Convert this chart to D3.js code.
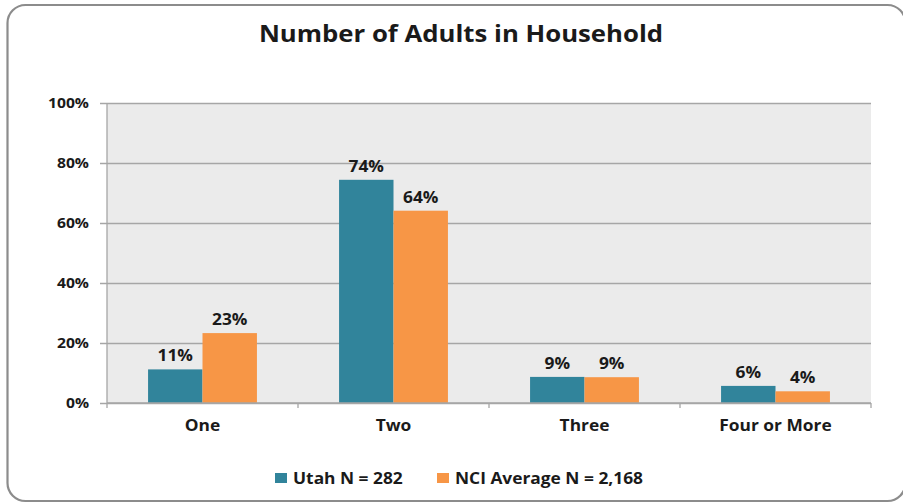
<!DOCTYPE html>
<html>
<head>
<meta charset="utf-8">
<script src="https://cdn.jsdelivr.net/npm/d3@7"></script>
<style>
  body { margin: 0; background: #fff; }
  text { font-family: "Open Sans", sans-serif; font-weight: bold; fill: #1a1a1a; }
</style>
</head>
<body>
<div id="chart"></div>
<script>
var categories = ["One", "Two", "Three", "Four or More"];
var seriesNames = ["Utah N = 282", "NCI Average N = 2,168"];
var utah = [0.112, 0.744, 0.087, 0.057];
var nci = [0.233, 0.641, 0.086, 0.039];
var yTicks = [0, 0.2, 0.4, 0.6, 0.8, 1.0];

var palette = ["#31849b", "#f79646"];

// set the dimensions and margins of the graph
var margin = { top: 103, right: 32, bottom: 100, left: 107 },
    width = 871 - margin.left,
    height = 403 - margin.top;

var svg = d3.select("#chart")
    .append("svg")
    .attr("width", 903)
    .attr("height", 503);

// outer frame
svg.append("rect")
    .attr("x", 7.5)
    .attr("y", 5)
    .attr("width", 898)
    .attr("height", 496)
    .attr("rx", 18)
    .attr("fill", "#fff")
    .attr("stroke", "#8c8c8c")
    .attr("stroke-width", 2.2);

svg.append("text")
    .attr("x", 461)
    .attr("y", 42)
    .attr("text-anchor", "middle")
    .style("font-size", "23px")
    .text("Number of Adults in Household");

var g = svg.append("g")
    .attr("transform", "translate(" + margin.left + "," + margin.top + ")");

var x0 = d3.scaleBand()
    .domain(categories)
    .range([0, width])
    .paddingInner(0.43)
    .paddingOuter(0.215);

var x1 = d3.scaleBand()
    .domain(seriesNames)
    .range([0, x0.bandwidth()]);

var y = d3.scaleLinear()
    .domain([0, 1])
    .range([height, 0]);

var color = d3.scaleOrdinal()
    .domain(seriesNames)
    .range(palette);

// plot background
g.append("rect")
    .attr("width", width)
    .attr("height", height)
    .attr("fill", "#ebebeb");

// gridlines + y axis
var yAxis = g.append("g")
    .call(d3.axisLeft(y)
        .tickValues(yTicks)
        .tickSize(-width - 7)
        .tickPadding(11)
        .tickFormat(d3.format(".0%")))
    .attr("transform", "translate(" + (-7) + ",0)");
yAxis.select(".domain").remove();
yAxis.selectAll(".tick line")
    .attr("stroke", "#a6a6a6")
    .attr("stroke-width", 1.3);
yAxis.selectAll(".tick text")
    .style("font-size", "14px")
    .attr("fill", "#1a1a1a");

g.append("line")
    .attr("x1", 0).attr("x2", 0)
    .attr("y1", 0).attr("y2", height)
    .attr("stroke", "#a6a6a6")
    .attr("stroke-width", 1.3);

var rows = categories.map(function (c, i) {
    return { category: c, values: [utah[i], nci[i]] };
});

var groups = g.selectAll(".grp")
    .data(rows)
    .enter().append("g")
    .attr("class", "grp")
    .attr("transform", function (d) { return "translate(" + x0(d.category) + ",0)"; });

groups.selectAll("rect")
    .data(function (d) {
        return d.values.map(function (v, i) { return { name: seriesNames[i], value: v }; });
    })
    .enter().append("rect")
    .attr("x", function (d) { return x1(d.name); })
    .attr("y", function (d) { return y(d.value); })
    .attr("width", x1.bandwidth())
    .attr("height", function (d) { return height - y(d.value); })
    .attr("fill", function (d) { return color(d.name); });

groups.selectAll(".lbl")
    .data(function (d) {
        return d.values.map(function (v, i) { return { name: seriesNames[i], value: v }; });
    })
    .enter().append("text")
    .attr("class", "lbl")
    .attr("x", function (d) { return x1(d.name) + x1.bandwidth() / 2; })
    .attr("y", function (d) { return y(d.value) - 8; })
    .attr("text-anchor", "middle")
    .style("font-size", "15.5px")
    .text(function (d) { return d3.format(".0%")(d.value); });

// x axis
var boundaries = d3.scaleLinear().domain([0, categories.length]).range([0, width]);
var xAxis = g.append("g")
    .attr("transform", "translate(0," + height + ")");
xAxis.append("line")
    .attr("x1", 0).attr("x2", width)
    .attr("stroke", "#a6a6a6")
    .attr("stroke-width", 1.3);
xAxis.selectAll(".tk")
    .data(d3.range(categories.length + 1))
    .enter().append("line")
    .attr("class", "tk")
    .attr("x1", function (d) { return boundaries(d); })
    .attr("x2", function (d) { return boundaries(d); })
    .attr("y1", 0).attr("y2", 5)
    .attr("stroke", "#a6a6a6")
    .attr("stroke-width", 1.3);
xAxis.selectAll(".cat")
    .data(categories)
    .enter().append("text")
    .attr("class", "cat")
    .attr("x", function (d) { return x0(d) + x0.bandwidth() / 2; })
    .attr("y", 28)
    .attr("text-anchor", "middle")
    .style("font-size", "15.5px")
    .text(function (d) { return d; });

// legend
var legendX = [275, 437];
var legend = svg.selectAll(".leg")
    .data(seriesNames)
    .enter().append("g")
    .attr("class", "leg")
    .attr("transform", function (d, i) { return "translate(" + legendX[i] + ",473)"; });
legend.append("rect")
    .attr("width", 12)
    .attr("height", 10)
    .attr("fill", function (d) { return color(d); });
legend.append("text")
    .attr("x", 18)
    .attr("y", 10.5)
    .style("font-size", "15.5px")
    .text(function (d) { return d; });

// the source image is slightly stretched sideways, widen text around its anchor
var stretch = 1.12;
svg.selectAll("text").each(function () {
    var t = d3.select(this);
    var tx = +t.attr("x") || 0, ty = +t.attr("y") || 0;
    t.attr("transform", "translate(" + tx + "," + ty + ") scale(" + stretch + ",1) translate(" + (-tx) + "," + (-ty) + ")");
});
</script>
</body>
</html>
